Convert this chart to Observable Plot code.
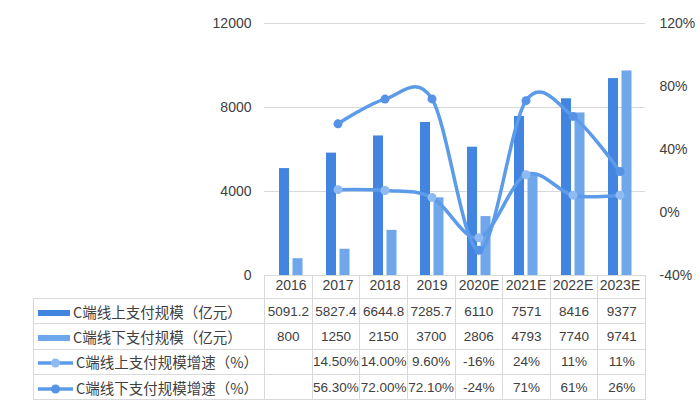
<!DOCTYPE html>
<html>
<head>
<meta charset="utf-8">
<script src="https://cdn.jsdelivr.net/npm/d3@7"></script>
<script src="https://cdn.jsdelivr.net/npm/@observablehq/plot@0.6"></script>
<style>
  html, body { margin:0; padding:0; background:#fff; }
  #wrap { position:relative; width:700px; height:407px; font-family:"Liberation Sans","Noto Sans CJK SC",sans-serif; color:#404040; }
  #chart { position:absolute; left:0; top:0; }
  table { position:absolute; left:33px; top:275px; border-collapse:collapse; table-layout:fixed; width:612px; }
  td { border:1px solid #d9d9d9; padding:0; text-align:center; font-size:13.5px; white-space:nowrap; overflow:visible; height:24.3px; }
  tr.head td { height:22px; }
  tr.head td.blank { border:none; border-right:1px solid #d9d9d9; border-bottom:1px solid #d9d9d9; }
  td.lab { text-align:left; font-size:14.5px; padding-left:4px; font-family:"Noto Sans CJK SC",sans-serif; }
  td.lab svg { vertical-align:middle; margin-right:2px; position:relative; top:-1px; }
</style>
</head>
<body>
<div id="wrap"><div id="chart"></div></div>
<script>
const years = ["2016","2017","2018","2019","2020E","2021E","2022E","2023E"];
const onlineScale = [5091.2,5827.4,6644.8,7285.7,6110,7571,8416,9377];
const offlineScale = [800,1250,2150,3700,2806,4793,7740,9741];
const onlineGrowth = [null,14.5,14.0,9.6,-16,24,11,11];
const offlineGrowth = [null,56.3,72.0,72.1,-24,71,61,26];
const onlineScaleLabels = ["5091.2","5827.4","6644.8","7285.7","6110","7571","8416","9377"];
const offlineScaleLabels = ["800","1250","2150","3700","2806","4793","7740","9741"];
const onlineGrowthLabels = ["","14.50%","14.00%","9.60%","-16%","24%","11%","11%"];
const offlineGrowthLabels = ["","56.30%","72.00%","72.10%","-24%","71%","61%","26%"];
const seriesNames = ["C端线上支付规模（亿元）","C端线下支付规模（亿元）","C端线上支付规模增速（%）","C端线下支付规模增速（%）"];
const leftTicks = [0,4000,8000,12000];
const rightTicks = [-40,0,40,80,120];

const colDark = "#4285e0", colLight = "#6fa6ec", colLine = "#5c9bea", mkLight = "#90bbf2", mkDark = "#5692e6";

// secondary axis: percent mapped onto primary scale (-40..120 -> 0..12000)
const toPrimary = p => (p + 40) * 12000 / 160;
const fromPrimary = v => v * 160 / 12000 - 40;

const bars = years.map((year, i) => ({year, online: onlineScale[i], offline: offlineScale[i]}));
const gOn = years.map((year, i) => ({year, g: onlineGrowth[i]})).filter(d => d.g != null);
const gOff = years.map((year, i) => ({year, g: offlineGrowth[i]})).filter(d => d.g != null);

const chart = Plot.plot({
  width: 700, height: 298,
  marginLeft: 264, marginRight: 55, marginTop: 23, marginBottom: 23,
  style: {fontFamily: "'Liberation Sans', sans-serif", fontSize: "14px", color: "#404040", background: "transparent"},
  x: {domain: years, padding: 0, axis: null},
  y: {domain: [0, 12000], axis: null},
  marks: [
    Plot.gridY(leftTicks, {stroke: "#d9d9d9", strokeOpacity: 1}),
    Plot.axisX({tickSize: 0, tickPadding: 5, fontSize: 14, label: null}),
    Plot.axisY({anchor: "left", ticks: leftTicks, tickFormat: d => String(d), tickSize: 0, tickPadding: 13, label: null, fontSize: 14}),
    Plot.axisY({anchor: "right", ticks: rightTicks.map(toPrimary), tickFormat: d => `${Math.round(fromPrimary(d))}%`, tickSize: 0, tickPadding: 14, label: null, fontSize: 14}),
    Plot.barY(bars, {x: "year", y: "online", fill: colDark, insetLeft: 12, insetRight: 25}),
    Plot.barY(bars, {x: "year", y: "offline", fill: colLight, insetLeft: 25.5, insetRight: 11.5}),
    Plot.line(gOn, {x: "year", y: d => toPrimary(d.g), stroke: colLine, strokeWidth: 3.5, curve: "cardinal"}),
    Plot.dot(gOn, {x: "year", y: d => toPrimary(d.g), r: 4.5, fill: mkLight, stroke: "none"}),
    Plot.line(gOff, {x: "year", y: d => toPrimary(d.g), stroke: colLine, strokeWidth: 3.5, curve: "cardinal"}),
    Plot.dot(gOff, {x: "year", y: d => toPrimary(d.g), r: 4.5, fill: mkDark, stroke: "none"})
  ]
});
document.getElementById("chart").appendChild(chart);

// data table with legend keys
const swatch = [
  `<svg width="33" height="8"><rect x="0" y="1" width="32" height="6" fill="${colDark}"/></svg>`,
  `<svg width="33" height="8"><rect x="0" y="1" width="32" height="6" fill="${colLight}"/></svg>`,
  `<svg width="36" height="10"><line x1="0" y1="5" x2="35" y2="5" stroke="${colLine}" stroke-width="3.5"/><circle cx="17.5" cy="5" r="4.5" fill="${mkLight}"/></svg>`,
  `<svg width="36" height="10"><line x1="0" y1="5" x2="35" y2="5" stroke="${colLine}" stroke-width="3.5"/><circle cx="17.5" cy="5" r="4.5" fill="${mkDark}"/></svg>`
];
const rows = [onlineScaleLabels, offlineScaleLabels, onlineGrowthLabels, offlineGrowthLabels];
let html = `<colgroup><col style="width:231px">` + years.map(() => `<col style="width:47.625px">`).join("") + `</colgroup>`;
html += `<tr class="head"><td class="blank"></td>` + years.map(() => `<td></td>`).join("") + `</tr>`;
rows.forEach((r, k) => {
  html += `<tr><td class="lab">${swatch[k]}${seriesNames[k]}</td>` + r.map(v => `<td>${v}</td>`).join("") + `</tr>`;
});
const table = document.createElement("table");
table.innerHTML = html;
document.getElementById("wrap").appendChild(table);
</script>
</body>
</html>
